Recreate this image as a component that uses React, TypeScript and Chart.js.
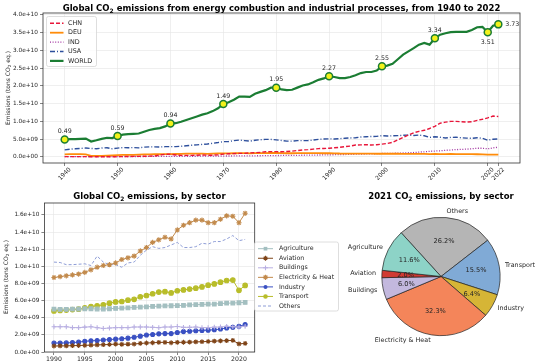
import React, { useEffect, useRef } from "react";
import { Chart, registerables } from "chart.js";

Chart.register(...registerables);

const FONT = "'DejaVu Sans', sans-serif";
const TEXT = "#262626";

// ---------- Top chart data (Gt CO2) ----------
const YEARS = [
  1940, 1941, 1942, 1943, 1944, 1945, 1946, 1947, 1948, 1949,
  1950, 1951, 1952, 1953, 1954, 1955, 1956, 1957, 1958, 1959,
  1960, 1961, 1962, 1963, 1964, 1965, 1966, 1967, 1968, 1969,
  1970, 1971, 1972, 1973, 1974, 1975, 1976, 1977, 1978, 1979,
  1980, 1981, 1982, 1983, 1984, 1985, 1986, 1987, 1988, 1989,
  1990, 1991, 1992, 1993, 1994, 1995, 1996, 1997, 1998, 1999,
  2000, 2001, 2002, 2003, 2004, 2005, 2006, 2007, 2008, 2009,
  2010, 2011, 2012, 2013, 2014, 2015, 2016, 2017, 2018, 2019,
  2020, 2021, 2022,
];
const CHN_GT = [
  0.10, 0.10, 0.10, 0.10, 0.10, 0.05, 0.05, 0.06, 0.06, 0.07,
  0.08, 0.10, 0.13, 0.15, 0.17, 0.20, 0.23, 0.28, 0.55, 0.75,
  0.80, 0.55, 0.45, 0.45, 0.45, 0.50, 0.55, 0.50, 0.50, 0.60,
  0.80, 0.90, 0.95, 1.00, 1.00, 1.15, 1.20, 1.30, 1.45, 1.50,
  1.50, 1.45, 1.55, 1.65, 1.80, 1.95, 2.05, 2.20, 2.35, 2.40,
  2.45, 2.60, 2.70, 2.90, 3.05, 3.35, 3.40, 3.45, 3.35, 3.45,
  3.60, 3.80, 4.10, 4.80, 5.50, 6.20, 6.80, 7.20, 7.50, 8.00,
  8.60, 9.50, 9.80, 10.00, 10.00, 9.90, 9.80, 9.90, 10.30, 10.60,
  11.00, 11.50, 11.40,
];
const DEU_GT = [
  0.75, 0.78, 0.78, 0.78, 0.72, 0.30, 0.30, 0.33, 0.40, 0.45,
  0.52, 0.57, 0.60, 0.60, 0.65, 0.70, 0.75, 0.77, 0.76, 0.77,
  0.81, 0.83, 0.87, 0.91, 0.92, 0.92, 0.91, 0.89, 0.95, 1.00,
  1.03, 1.03, 1.05, 1.10, 1.07, 1.02, 1.08, 1.06, 1.10, 1.15,
  1.11, 1.08, 1.04, 1.04, 1.06, 1.07, 1.07, 1.07, 1.07, 1.05,
  1.05, 1.02, 0.97, 0.96, 0.94, 0.94, 0.96, 0.93, 0.92, 0.90,
  0.90, 0.92, 0.90, 0.90, 0.88, 0.86, 0.87, 0.85, 0.85, 0.79,
  0.83, 0.81, 0.82, 0.84, 0.80, 0.80, 0.80, 0.79, 0.76, 0.71,
  0.65, 0.68, 0.67,
];
const IND_GT = [
  0.10, 0.10, 0.10, 0.10, 0.10, 0.10, 0.10, 0.10, 0.10, 0.10,
  0.12, 0.12, 0.12, 0.12, 0.13, 0.13, 0.14, 0.15, 0.15, 0.16,
  0.16, 0.17, 0.18, 0.19, 0.19, 0.21, 0.21, 0.22, 0.23, 0.24,
  0.26, 0.27, 0.28, 0.29, 0.30, 0.31, 0.33, 0.34, 0.36, 0.38,
  0.40, 0.42, 0.43, 0.45, 0.46, 0.48, 0.50, 0.52, 0.55, 0.57,
  0.60, 0.63, 0.66, 0.69, 0.73, 0.77, 0.80, 0.84, 0.86, 0.93,
  0.98, 1.00, 1.02, 1.06, 1.12, 1.18, 1.25, 1.36, 1.45, 1.59,
  1.66, 1.74, 1.87, 1.93, 2.08, 2.13, 2.20, 2.30, 2.44, 2.46,
  2.30, 2.55, 2.75,
];
const USA_GT = [
  2.00, 2.20, 2.30, 2.40, 2.50, 2.40, 2.30, 2.50, 2.60, 2.30,
  2.50, 2.65, 2.60, 2.65, 2.55, 2.75, 2.85, 2.85, 2.80, 2.90,
  2.90, 2.90, 3.00, 3.15, 3.30, 3.40, 3.55, 3.65, 3.85, 4.05,
  4.30, 4.35, 4.60, 4.75, 4.60, 4.45, 4.70, 4.85, 4.95, 4.95,
  4.80, 4.65, 4.45, 4.45, 4.60, 4.60, 4.60, 4.75, 4.95, 5.05,
  5.10, 5.05, 5.15, 5.25, 5.35, 5.40, 5.60, 5.70, 5.75, 5.80,
  6.00, 5.90, 5.95, 6.00, 6.10, 6.15, 6.05, 6.15, 5.95, 5.50,
  5.70, 5.55, 5.35, 5.50, 5.55, 5.40, 5.30, 5.25, 5.40, 5.25,
  4.70, 5.00, 5.05,
];
const WORLD_GT = [
  4.90, 5.00, 5.00, 5.10, 5.15, 4.35, 4.70, 5.10, 5.40, 5.30,
  5.90, 6.30, 6.40, 6.50, 6.60, 7.10, 7.60, 7.90, 8.10, 8.60,
  9.40, 9.50, 9.90, 10.40, 10.90, 11.40, 11.90, 12.30, 12.90, 13.70,
  14.90, 15.40, 16.10, 17.00, 17.00, 16.90, 17.80, 18.30, 18.80, 19.50,
  19.50, 19.00, 18.80, 18.90, 19.50, 20.10, 20.40, 21.00, 21.70, 22.10,
  22.70, 22.50, 22.20, 22.20, 22.50, 23.00, 23.60, 23.90, 23.90, 24.30,
  25.50, 25.70, 26.20, 27.50, 28.80, 29.70, 30.60, 31.60, 32.10, 31.60,
  33.40, 34.40, 34.80, 35.10, 35.20, 35.20, 35.20, 35.70, 36.50, 36.60,
  35.10, 36.90, 37.30,
];
const COUNTRY_NAMES = ["CHN", "DEU", "IND", "USA", "WORLD"];
const MARK_YEARS = [1940, 1950, 1960, 1970, 1980, 1990, 2000, 2010, 2020, 2022];
const TOP_X_TICKS = [1940, 1950, 1960, 1970, 1980, 1990, 2000, 2010, 2020, 2022];
const TOP_Y_TICKS = [0, 5e9, 1e10, 1.5e10, 2e10, 2.5e10, 3e10, 3.5e10, 4e10];

// ---------- Sector data (Gt CO2) ----------
const SECTOR_YEARS = [
  1990, 1991, 1992, 1993, 1994, 1995, 1996, 1997, 1998, 1999,
  2000, 2001, 2002, 2003, 2004, 2005, 2006, 2007, 2008, 2009,
  2010, 2011, 2012, 2013, 2014, 2015, 2016, 2017, 2018, 2019,
  2020, 2021,
];
const SECTORS = ["Agriculture", "Aviation", "Buildings", "Electricity & Heat", "Industry", "Transport", "Others"];
const AGRICULTURE_GT = [
  5.00, 4.98, 4.98, 5.00, 5.02, 5.05, 5.05, 5.02, 5.02, 5.05,
  5.10, 5.12, 5.15, 5.20, 5.25, 5.28, 5.32, 5.35, 5.38, 5.40,
  5.42, 5.45, 5.50, 5.52, 5.55, 5.58, 5.60, 5.65, 5.70, 5.72,
  5.75, 5.80,
];
const AVIATION_GT = [
  0.70, 0.71, 0.72, 0.74, 0.76, 0.78, 0.80, 0.83, 0.85, 0.88,
  0.92, 0.90, 0.91, 0.93, 1.00, 1.05, 1.08, 1.12, 1.13, 1.08,
  1.12, 1.14, 1.15, 1.18, 1.20, 1.23, 1.27, 1.30, 1.33, 1.35,
  0.95, 1.00,
];
const BUILDINGS_GT = [
  2.95, 2.95, 2.95, 2.85, 2.85, 2.90, 2.95, 2.85, 2.75, 2.80,
  2.85, 2.85, 2.85, 2.92, 2.92, 2.92, 2.88, 2.85, 2.92, 2.92,
  2.98, 2.88, 2.88, 2.92, 2.85, 2.85, 2.90, 2.92, 3.00, 2.95,
  2.92, 3.00,
];
const ELECTRICITY_GT = [
  8.70, 8.80, 8.90, 9.00, 9.10, 9.30, 9.60, 9.90, 10.10, 10.20,
  10.40, 10.80, 11.00, 11.20, 11.80, 12.20, 12.80, 13.10, 13.40, 13.20,
  14.25, 14.80, 15.10, 15.40, 15.40, 15.10, 15.10, 15.50, 15.90, 15.85,
  15.10, 16.20,
];
const INDUSTRY_GT = [
  1.05, 1.05, 1.06, 1.10, 1.15, 1.25, 1.30, 1.35, 1.40, 1.45,
  1.50, 1.55, 1.62, 1.72, 1.85, 1.98, 2.05, 2.12, 2.15, 2.15,
  2.28, 2.38, 2.42, 2.48, 2.52, 2.55, 2.60, 2.68, 2.80, 2.88,
  3.00, 3.20,
];
const TRANSPORT_GT = [
  4.80, 4.85, 4.90, 4.95, 5.00, 5.15, 5.30, 5.40, 5.50, 5.70,
  5.85, 5.90, 6.05, 6.15, 6.45, 6.60, 6.80, 7.00, 7.05, 6.90,
  7.15, 7.25, 7.35, 7.45, 7.60, 7.80, 7.95, 8.15, 8.35, 8.40,
  7.20, 7.77,
];
const OTHERS_GT = [
  10.50, 10.45, 10.20, 10.20, 10.25, 10.30, 10.10, 11.20, 10.50, 10.20,
  10.20, 9.90, 10.40, 10.50, 11.30, 11.90, 12.30, 12.10, 12.20, 12.50,
  12.80, 12.20, 12.20, 12.30, 12.70, 12.60, 12.90, 12.90, 13.20, 13.60,
  13.00, 13.15,
];
const BOTTOM_X_TICKS = [1990, 1995, 2000, 2005, 2010, 2015, 2020];
const BOTTOM_Y_TICKS = [0, 2e9, 4e9, 6e9, 8e9, 1e10, 1.2e10, 1.4e10, 1.6e10];

const GT = 1e9;

function sci(v: number): string {
  if (v === 0) return "0.0e+00";
  const e = Math.floor(Math.log10(Math.abs(v)) + 1e-9);
  const m = v / Math.pow(10, e);
  return `${m.toFixed(1)}e${e < 0 ? "-" : "+"}${String(Math.abs(e)).padStart(2, "0")}`;
}

function drawMarker(ctx: CanvasRenderingContext2D, style: string, x: number, y: number, r: number, color: string) {
  ctx.save();
  ctx.fillStyle = color;
  ctx.strokeStyle = color;
  ctx.lineWidth = 1.1;
  ctx.setLineDash([]);
  ctx.beginPath();
  if (style === "circle") {
    ctx.arc(x, y, r, 0, Math.PI * 2);
    ctx.fill();
  } else if (style === "rect") {
    const s = r * Math.SQRT1_2;
    ctx.fillRect(x - s, y - s, 2 * s, 2 * s);
  } else if (style === "star" || style === "cross") {
    const n = style === "star" ? 4 : 2;
    for (let k = 0; k < n; k++) {
      const a = (k * Math.PI) / n;
      ctx.moveTo(x - Math.cos(a) * r, y - Math.sin(a) * r);
      ctx.lineTo(x + Math.cos(a) * r, y + Math.sin(a) * r);
    }
    ctx.stroke();
  }
  ctx.restore();
}

const boxPlugin = {
  id: "axesBox",
  afterDraw(chart: any) {
    const { ctx, chartArea } = chart;
    ctx.save();
    ctx.strokeStyle = "#333";
    ctx.lineWidth = 0.8;
    ctx.strokeRect(chartArea.left, chartArea.top, chartArea.right - chartArea.left, chartArea.bottom - chartArea.top);
    ctx.restore();
  },
};

const topExtras = {
  id: "topExtras",
  afterDraw(chart: any) {
    const { ctx, chartArea } = chart;
    const xs = chart.scales.x;
    ctx.save();
    ctx.fillStyle = TEXT;
    ctx.font = `6px ${FONT}`;
    ctx.textAlign = "center";
    ctx.textBaseline = "middle";
    TOP_X_TICKS.forEach((t) => {
      const x = xs.getPixelForValue(t);
      ctx.save();
      ctx.translate(x, chartArea.bottom + 11);
      ctx.rotate(-Math.PI / 4);
      ctx.fillText(String(t), 0, 0);
      ctx.restore();
    });
    const meta = chart.getDatasetMeta(4);
    ctx.font = `6.3px ${FONT}`;
    MARK_YEARS.forEach((yr) => {
      const i = YEARS.indexOf(yr);
      const el = meta.data[i];
      const txt = (WORLD_GT[i] / 10).toFixed(2);
      let x = el.x;
      let y = el.y - 8;
      ctx.textAlign = "center";
      if (yr === 2020) y = el.y + 10;
      if (yr === 2022) {
        x = el.x + 7;
        y = el.y;
        ctx.textAlign = "left";
      }
      ctx.fillText(txt, x, y);
    });
    const lx = 46.5, ly = 16.5, lw = 50, lh = 50;
    ctx.fillStyle = "rgba(255,255,255,0.85)";
    ctx.strokeStyle = "#d6d6d6";
    ctx.lineWidth = 0.8;
    ctx.beginPath();
    ctx.roundRect(lx, ly, lw, lh, 2);
    ctx.fill();
    ctx.stroke();
    chart.data.datasets.forEach((ds: any, i: number) => {
      const y = ly + 6.8 + i * 9.4;
      ctx.save();
      ctx.strokeStyle = ds.borderColor;
      ctx.lineWidth = ds.borderWidth;
      ctx.setLineDash(ds.borderDash || []);
      ctx.beginPath();
      ctx.moveTo(lx + 3.5, y);
      ctx.lineTo(lx + 17, y);
      ctx.stroke();
      ctx.restore();
      ctx.fillStyle = TEXT;
      ctx.font = `6.4px ${FONT}`;
      ctx.textAlign = "left";
      ctx.textBaseline = "middle";
      ctx.fillText(ds.label, lx + 21.5, y);
    });
    ctx.restore();
  },
};

const bottomLegend = {
  id: "bottomLegend",
  afterDraw(chart: any) {
    const { ctx } = chart;
    const lx = 254.5, ly = 62, lw = 84, lh = 69;
    ctx.save();
    ctx.fillStyle = "rgba(255,255,255,0.85)";
    ctx.strokeStyle = "#d6d6d6";
    ctx.lineWidth = 0.8;
    ctx.beginPath();
    ctx.roundRect(lx, ly, lw, lh, 2);
    ctx.fill();
    ctx.stroke();
    chart.data.datasets.forEach((ds: any, i: number) => {
      const y = ly + 6.7 + i * 9.55;
      ctx.save();
      ctx.strokeStyle = ds.borderColor;
      ctx.lineWidth = ds.borderWidth;
      ctx.setLineDash(ds.borderDash || []);
      ctx.beginPath();
      ctx.moveTo(lx + 3.5, y);
      ctx.lineTo(lx + 18.5, y);
      ctx.stroke();
      ctx.restore();
      if (ds.pointRadius > 0) drawMarker(ctx, ds.pointStyle, lx + 11, y, ds.pointRadius, ds.borderColor);
      ctx.fillStyle = TEXT;
      ctx.font = `6.3px ${FONT}`;
      ctx.textAlign = "left";
      ctx.textBaseline = "middle";
      ctx.fillText(ds.label, lx + 24.5, y);
    });
    ctx.restore();
  },
};

const pieLabels = {
  id: "pieLabels",
  afterDatasetsDraw(chart: any) {
    const { ctx } = chart;
    const meta = chart.getDatasetMeta(0);
    const vals: number[] = chart.data.datasets[0].data;
    const total = vals.reduce((a, b) => a + b, 0);
    ctx.save();
    ctx.fillStyle = TEXT;
    ctx.textBaseline = "middle";
    meta.data.forEach((el: any, i: number) => {
      const mid = (el.startAngle + el.endAngle) / 2;
      const r = el.outerRadius;
      const cx = el.x, cy = el.y;
      const px = cx + Math.cos(mid) * r * 0.6;
      const py = cy + Math.sin(mid) * r * 0.6;
      ctx.font = `6.6px ${FONT}`;
      ctx.textAlign = "center";
      ctx.fillText(((vals[i] / total) * 100).toFixed(1) + "%", px, py);
      const lx = cx + Math.cos(mid) * r * 1.1;
      const ly = cy + Math.sin(mid) * r * 1.1;
      ctx.font = `6.4px ${FONT}`;
      ctx.textAlign = Math.cos(mid) > 0 ? "left" : "right";
      ctx.fillText(chart.data.labels[i], lx, ly);
    });
    ctx.restore();
  },
};

const gridOpts = { color: "#e4e4e4", lineWidth: 0.6, tickColor: "#333", tickLength: 3 };

function CO2() {
  return (
    <>
      CO<span style={{ fontSize: "0.7em", position: "relative", top: "0.3em" }}>2</span>
    </>
  );
}

export default function App() {
  const topRef = useRef<HTMLCanvasElement>(null);
  const botRef = useRef<HTMLCanvasElement>(null);
  const pieRef = useRef<HTMLCanvasElement>(null);

  useEffect(() => {
    Chart.defaults.font.family = FONT;
    Chart.defaults.color = TEXT;

    const countrySeries = [CHN_GT, DEU_GT, IND_GT, USA_GT, WORLD_GT];
    const countryStyles: any[] = [
      { borderColor: "#e8163a", borderDash: [4, 2], borderWidth: 1.4 },
      { borderColor: "#ff8c0a", borderWidth: 1.8 },
      { borderColor: "#a0309e", borderDash: [1, 1.6], borderWidth: 1.3 },
      { borderColor: "#2d4f9c", borderDash: [5, 2, 1, 2], borderWidth: 1.4 },
      { borderColor: "#1b7d33", borderWidth: 2.2 },
    ];

    const top = new Chart(topRef.current!, {
      type: "line",
      data: {
        datasets: countrySeries.map((arr, k) => ({
          label: COUNTRY_NAMES[k],
          data: arr.map((v, i) => ({ x: YEARS[i], y: v * GT })),
          ...countryStyles[k],
          fill: false,
          tension: 0,
          pointRadius:
            k === 4 ? (c: any) => (MARK_YEARS.includes(YEARS[c.dataIndex]) ? 3.5 : 0) : 0,
          pointBackgroundColor: "#f2f21a",
          pointBorderColor: "#1b7d33",
          pointBorderWidth: 1.5,
        })),
      },
      options: {
        animation: false,
        responsive: false,
        events: [],
        layout: { padding: { left: 0, right: 30, top: 13, bottom: 0 } },
        plugins: { legend: { display: false }, tooltip: { enabled: false } },
        scales: {
          x: {
            type: "linear",
            min: 1935.9,
            max: 2026.1,
            afterBuildTicks: (s: any) => {
              s.ticks = TOP_X_TICKS.map((v) => ({ value: v }));
            },
            afterFit: (s: any) => {
              s.height = 17;
            },
            ticks: { display: false },
            grid: gridOpts,
            border: { display: false },
          },
          y: {
            type: "linear",
            min: -1.7e9,
            max: 4.05e10,
            afterBuildTicks: (s: any) => {
              s.ticks = TOP_Y_TICKS.map((v) => ({ value: v }));
            },
            afterFit: (s: any) => {
              s.width = 43;
            },
            ticks: { callback: (v: any) => sci(Number(v)), font: { size: 5.8, family: FONT }, color: TEXT, padding: 2 },
            grid: gridOpts,
            border: { display: false },
          },
        },
      } as any,
      plugins: [boxPlugin, topExtras],
    });

    const sectorSeries = [AGRICULTURE_GT, AVIATION_GT, BUILDINGS_GT, ELECTRICITY_GT, INDUSTRY_GT, TRANSPORT_GT, OTHERS_GT];
    const sectorStyles: any[] = [
      { borderColor: "#a3bfc0", pointStyle: "rect", pointRadius: 2.6 },
      { borderColor: "#7f4418", pointStyle: "star", pointRadius: 2.4 },
      { borderColor: "#b9b0e2", pointStyle: "cross", pointRadius: 2.4 },
      { borderColor: "#c28a4c", pointStyle: "star", pointRadius: 2.6 },
      { borderColor: "#3a50c2", pointStyle: "circle", pointRadius: 2 },
      { borderColor: "#b8bd2a", pointStyle: "circle", pointRadius: 2.3 },
      { borderColor: "#8e9dd6", pointStyle: "circle", pointRadius: 0, borderDash: [3, 2] },
    ];

    const bot = new Chart(botRef.current!, {
      type: "line",
      data: {
        datasets: sectorSeries.map((arr, k) => ({
          label: SECTORS[k],
          data: arr.map((v, i) => ({ x: SECTOR_YEARS[i], y: v * GT })),
          borderWidth: 1,
          ...sectorStyles[k],
          pointBackgroundColor: sectorStyles[k].borderColor,
          pointBorderColor: sectorStyles[k].borderColor,
          pointBorderWidth: 1.1,
          fill: false,
          tension: 0,
        })),
      },
      options: {
        animation: false,
        responsive: false,
        events: [],
        layout: { padding: { left: 0, right: 95.3, top: 23, bottom: 0 } },
        plugins: { legend: { display: false }, tooltip: { enabled: false } },
        scales: {
          x: {
            type: "linear",
            min: 1988.45,
            max: 2022.55,
            afterBuildTicks: (s: any) => {
              s.ticks = BOTTOM_X_TICKS.map((v) => ({ value: v }));
            },
            afterFit: (s: any) => {
              s.height = 12;
            },
            ticks: { callback: (v: any) => String(v), font: { size: 6.2, family: FONT }, color: TEXT, padding: 1, maxRotation: 0 },
            grid: gridOpts,
            border: { display: false },
          },
          y: {
            type: "linear",
            min: 0,
            max: 1.74e10,
            afterBuildTicks: (s: any) => {
              s.ticks = BOTTOM_Y_TICKS.map((v) => ({ value: v }));
            },
            afterFit: (s: any) => {
              s.width = 44.4;
            },
            ticks: { callback: (v: any) => sci(Number(v)), font: { size: 5.8, family: FONT }, color: TEXT, padding: 2 },
            grid: gridOpts,
            border: { display: false },
          },
        },
      } as any,
      plugins: [boxPlugin, bottomLegend],
    });

    const PIE_COLORS = ["#8dd3c7", "#d03a33", "#c3b8de", "#f4855a", "#d6b536", "#80aad6", "#b5b5b5"];
    const last = sectorSeries.map((arr) => arr[arr.length - 1]);
    const pie = new Chart(pieRef.current!, {
      type: "pie",
      data: {
        labels: SECTORS.slice().reverse(),
        datasets: [
          {
            data: last.slice().reverse(),
            backgroundColor: PIE_COLORS.slice().reverse(),
            borderColor: "#222",
            borderWidth: 0.7,
          },
        ],
      },
      options: {
        animation: false,
        responsive: false,
        events: [],
        rotation: -42.3,
        layout: { padding: { left: 81.5, right: 49.5, top: 37, bottom: 28 } },
        plugins: { legend: { display: false }, tooltip: { enabled: false } },
      } as any,
      plugins: [pieLabels],
    });

    return () => {
      top.destroy();
      bot.destroy();
      pie.destroy();
    };
  }, []);

  const titleStyle: React.CSSProperties = {
    position: "absolute",
    textAlign: "center",
    fontFamily: FONT,
    fontWeight: "bold",
    fontSize: 8.5,
    lineHeight: "12px",
    color: "#000",
    whiteSpace: "nowrap",
  };
  const yTitle = (cx: number, cy: number): React.CSSProperties => ({
    position: "absolute",
    left: cx,
    top: cy,
    transform: "translate(-50%, -50%) rotate(-90deg)",
    fontFamily: FONT,
    fontSize: 6,
    color: TEXT,
    whiteSpace: "nowrap",
    lineHeight: "8px",
  });

  return (
    <div style={{ position: "absolute", left: 0, top: 0, width: 550, height: 364, background: "#fff", overflow: "hidden" }}>
      <canvas ref={topRef} width={550} height={180} style={{ position: "absolute", left: 0, top: 0 }} />
      <canvas ref={botRef} width={350} height={184} style={{ position: "absolute", left: 0, top: 180 }} />
      <canvas ref={pieRef} width={250} height={184} style={{ position: "absolute", left: 300, top: 180 }} />
      <div style={{ ...titleStyle, left: 0, width: 563, top: 2 }}>
        Global <CO2 /> emissions from energy combustion and industrial processes, from 1940 to 2022
      </div>
      <div style={{ ...titleStyle, left: 0, width: 299, top: 190 }}>
        Global <CO2 /> emissions, by sector
      </div>
      <div style={{ ...titleStyle, left: 341, width: 200, top: 190 }}>
        2021 <CO2 /> emissions, by sector
      </div>
      <div style={yTitle(7.5, 88)}>
        Emissions (tons <CO2 /> eq.)
      </div>
      <div style={yTitle(5.5, 277)}>
        Emissions (tons <CO2 /> eq.)
      </div>
    </div>
  );
}
